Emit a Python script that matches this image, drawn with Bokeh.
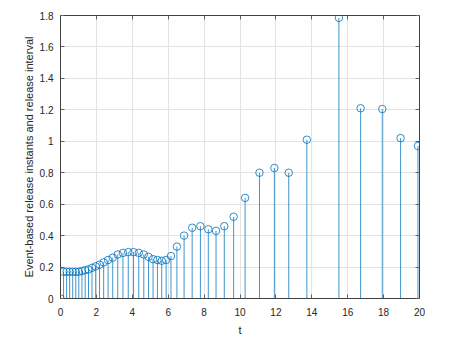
from bokeh.plotting import figure
from bokeh.models import LinearAxis, Range1d, SingleIntervalTicker, ColumnDataSource, CustomJSTickFormatter
from bokeh.embed import file_html
from bokeh.resources import INLINE

# Event-based release instants (t) and release interval (value)
release_t = [0.0, 0.17, 0.34, 0.51, 0.68, 0.85, 1.02, 1.195, 1.375, 1.56, 1.755,
             1.96, 2.175, 2.405, 2.65, 2.91, 3.19, 3.48, 3.775, 4.07, 4.36, 4.64,
             4.905, 5.155, 5.40, 5.64, 5.885, 6.155, 6.485, 6.885, 7.335, 7.795,
             8.235, 8.665, 9.125, 9.645, 10.285, 11.085, 11.915, 12.715, 13.725,
             15.51, 16.72, 17.925, 18.945, 19.915]
release_interval = [0.0, 0.17, 0.17, 0.17, 0.17, 0.17, 0.17, 0.175, 0.18, 0.185, 0.195,
                    0.205, 0.215, 0.23, 0.245, 0.26, 0.28, 0.29, 0.295, 0.295, 0.29, 0.28,
                    0.265, 0.25, 0.245, 0.24, 0.245, 0.27, 0.33, 0.40, 0.45, 0.46,
                    0.44, 0.43, 0.46, 0.52, 0.64, 0.80, 0.83, 0.80, 1.01,
                    1.785, 1.21, 1.205, 1.02, 0.97]
base = [0.0] * len(release_t)

x_label = "t"
y_label = "Event-based release instants and release interval"

src = ColumnDataSource(data=dict(t=release_t, v=release_interval, b=base))

FONT = "Liberation Sans"
TXT = "#262626"
STEM = "#0072BD"

p = figure(width=441, height=338, output_backend="svg", toolbar_location=None,
           x_range=Range1d(0, 20), y_range=Range1d(0, 1.8),
           min_border_left=60, min_border_right=22, min_border_top=15, min_border_bottom=40,
           x_axis_label=x_label, y_axis_label=y_label)
p.outline_line_color = None
p.background_fill_color = "white"
p.border_fill_color = "white"

xb = p.xaxis[0]
yl = p.yaxis[0]

p.segment(x0="t", y0="b", x1="t", y1="v", source=src, line_color=STEM, line_width=1, line_alpha=0.75)
p.scatter(x="t", y="v", source=src, marker="circle", size=7.5, fill_color=None,
          line_color=STEM, line_width=1, line_alpha=0.8)

xt = SingleIntervalTicker(interval=2)
yt = SingleIntervalTicker(interval=0.2)
xb.ticker = xt
yl.ticker = yt
p.xgrid.ticker = xt
p.ygrid.ticker = yt
p.grid.grid_line_color = "#e3e3e3"
p.grid.grid_line_width = 1

top = LinearAxis(ticker=SingleIntervalTicker(interval=2),
                 formatter=CustomJSTickFormatter(code="return ''"))
right = LinearAxis(ticker=SingleIntervalTicker(interval=0.2),
                   formatter=CustomJSTickFormatter(code="return ''"))
p.add_layout(top, "above")
p.add_layout(right, "right")

for ax in [xb, yl, top, right]:
    ax.axis_line_color = "#404040"
    ax.axis_line_width = 1
    ax.major_tick_in = 4
    ax.major_tick_out = 0
    ax.major_tick_line_color = "#606060"
    ax.minor_tick_line_color = None
    ax.major_label_text_font = FONT
    ax.major_label_text_font_size = "10px"
    ax.major_label_text_color = TXT
    ax.axis_label_text_font = FONT
    ax.axis_label_text_font_size = "11px"
    ax.axis_label_text_font_style = "normal"
    ax.axis_label_text_color = TXT

for ax in [top, right]:
    ax.major_label_standoff = 0

xb.major_label_standoff = 5
xb.axis_label_standoff = 5
yl.major_label_standoff = 3
yl.axis_label_standoff = 2

open("out.html", "w").write(file_html(p, INLINE))
